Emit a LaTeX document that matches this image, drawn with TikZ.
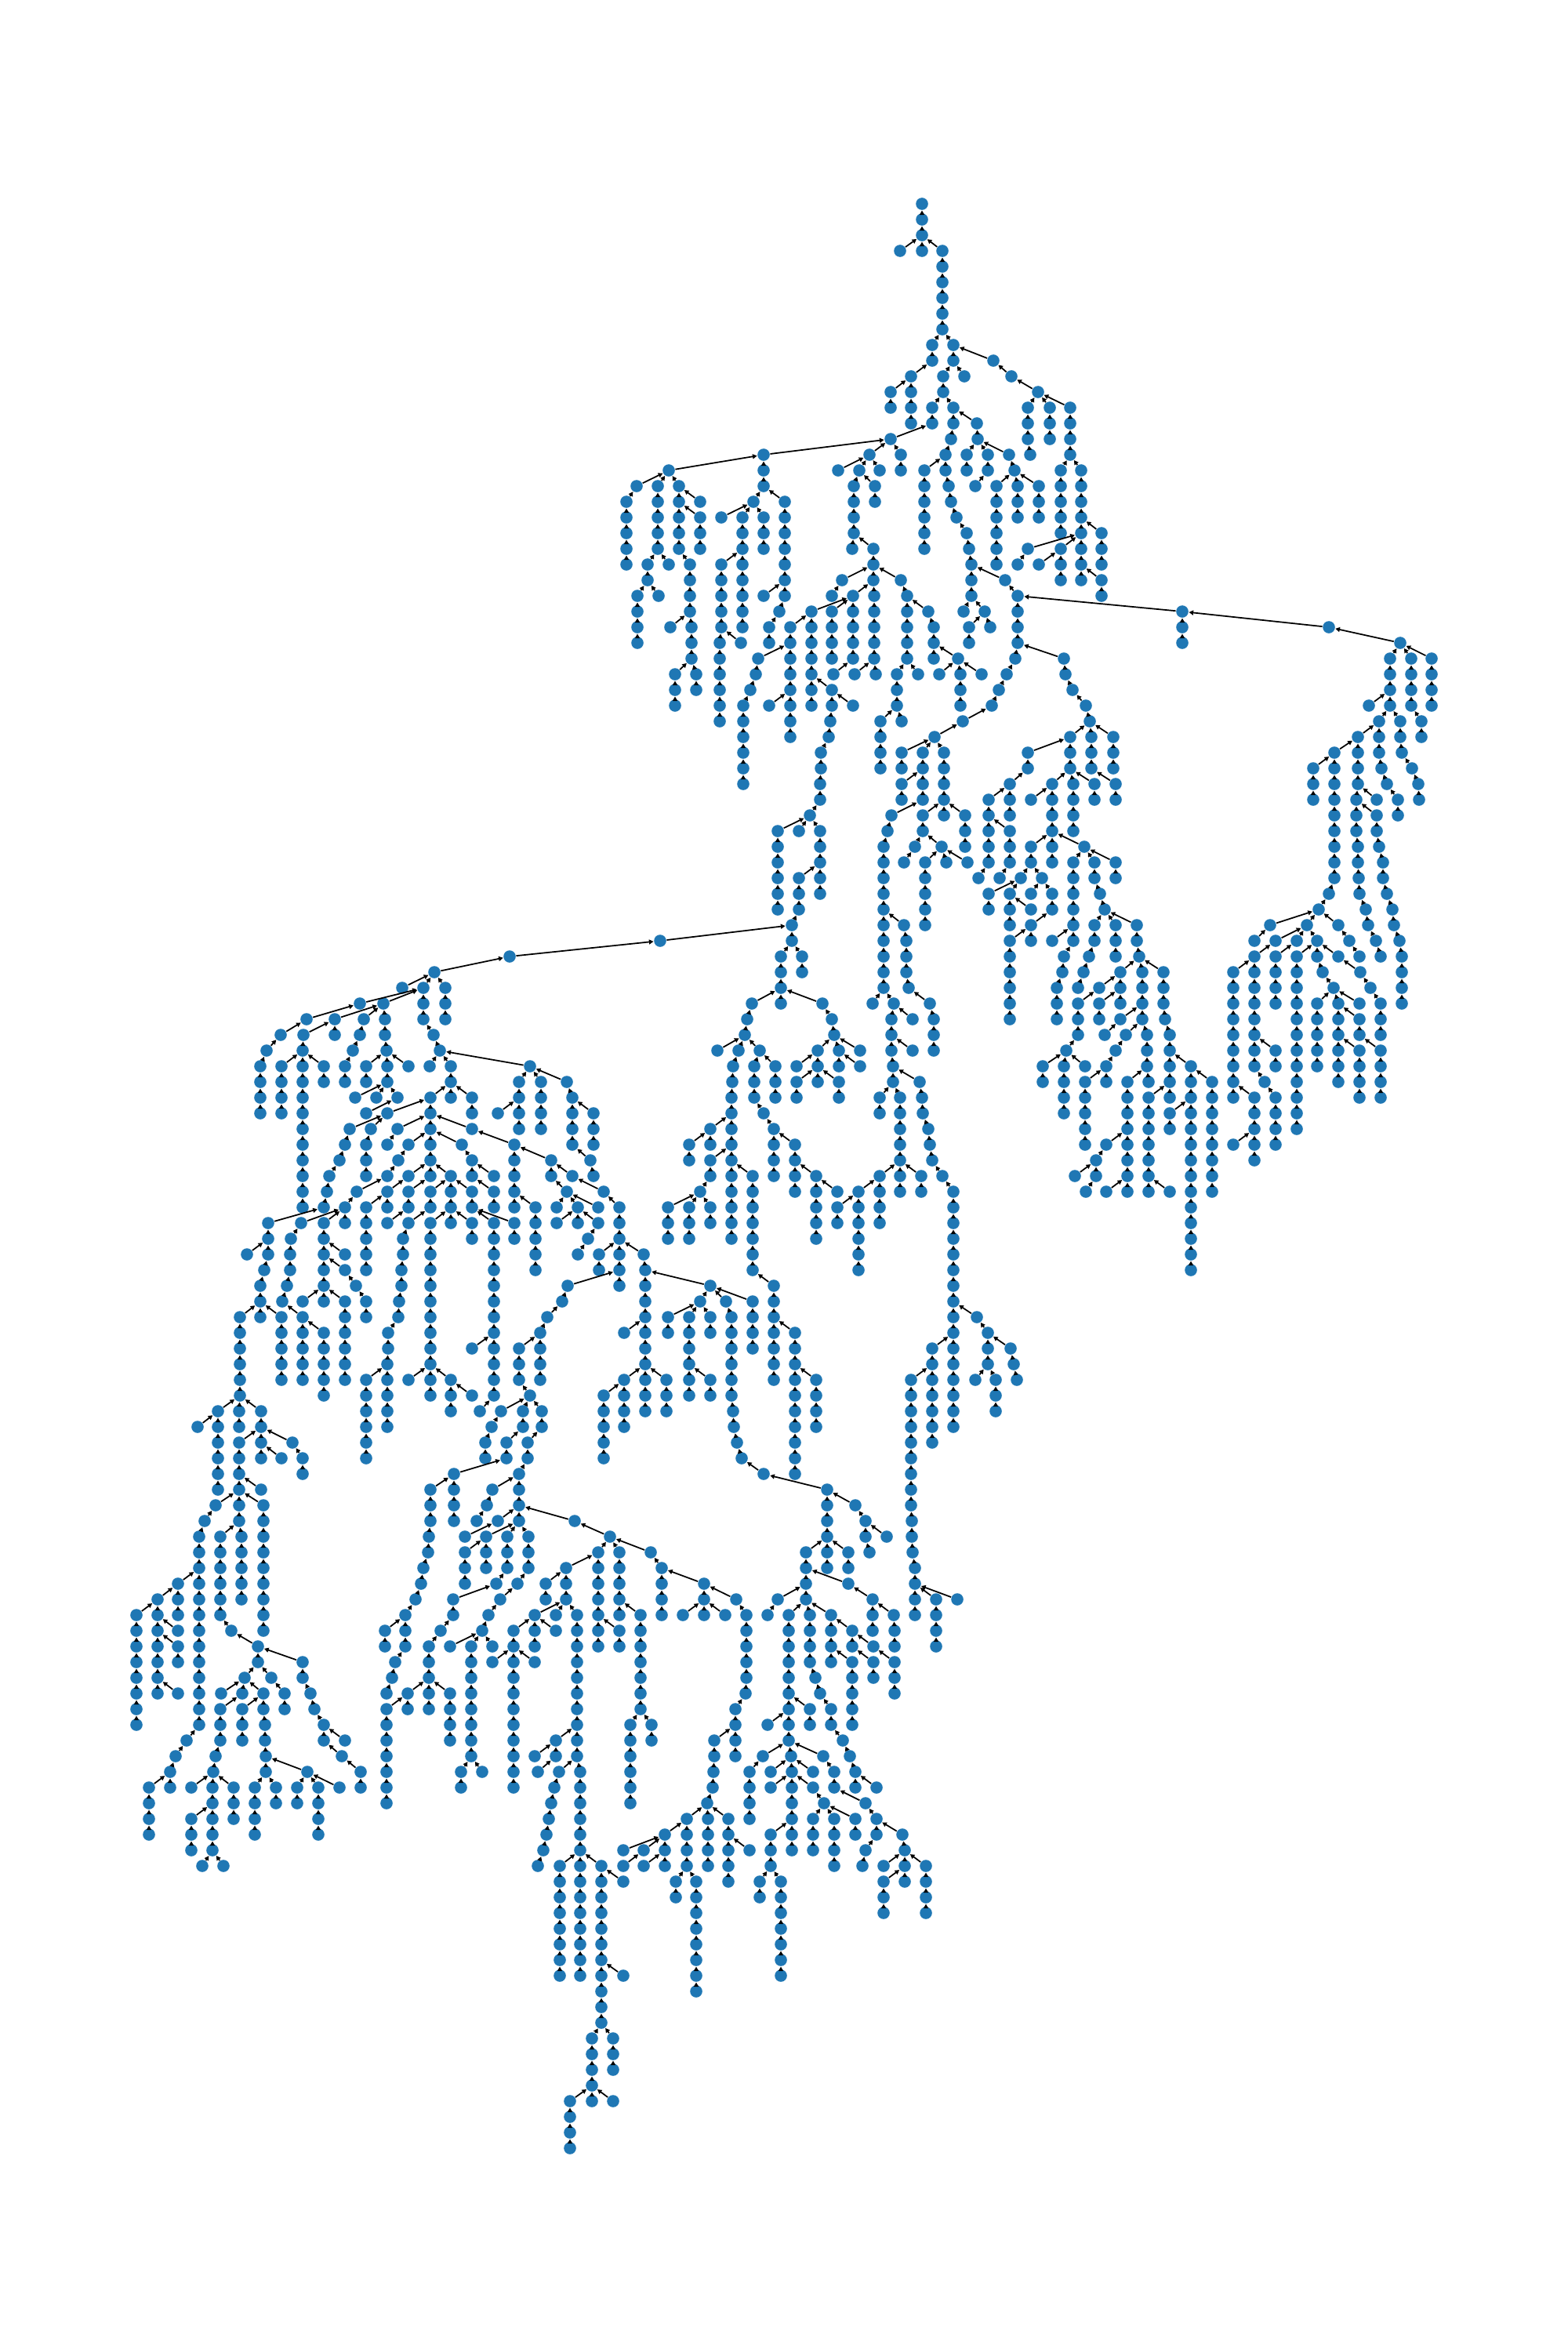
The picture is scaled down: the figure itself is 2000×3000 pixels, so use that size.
\documentclass[tikz,border=0pt]{standalone}
\usetikzlibrary{arrows.meta}
\definecolor{nodeblue}{HTML}{1F77B4}
\tikzset{
  nd/.style={circle,fill=nodeblue,draw=none,inner sep=0pt,minimum size=0.156cm},
  edge/.style={line width=0.5pt,draw=black,-{Triangle[length=1.6pt,width=1.7pt]}}
}
\newcount\rw
\newcommand\nodepass[3]{%
  \global\rw=#1\relax
  \foreach \xx in {#3}{%
    \global\advance\rw by 1\relax
    \node[nd] (n\the\rw x\xx) at (\xx,-\the\numexpr 260+20*\rw\relax) {};
  }}
\newcommand\edgepass[3]{%
  \global\rw=#1\relax
  \xdef\prevn{n\the\rw x#2}%
  \foreach \xx in {#3}{%
    \global\advance\rw by 1\relax
    \draw[edge] (n\the\rw x\xx) -- (\prevn);
    \xdef\prevn{n\the\rw x\xx}%
  }}
\newcommand\Data{%
\T{0}{1176}{1176,1176}
\T{2}{1176}{1148}
\T{2}{1176}{1176}
\T{2}{1176}{1202,1202,1202,1202,1202,1202}
\T{8}{1202}{1189,1189,1162,1162,1162,1162}
\T{11}{1162}{1136,1136}
\T{8}{1202}{1216,1216,1203,1203}
\T{10}{1216}{1230}
\T{9}{1216}{1267,1290,1324}
\T{12}{1324}{1311,1311,1311,1314}
\T{12}{1324}{1339,1339,1339}
\T{12}{1324}{1365,1365,1365,1365}
\T{16}{1365}{1353,1353,1353,1353,1353}
\T{16}{1365}{1379,1379,1379,1379,1379}
\T{20}{1379}{1405,1405,1405}
\T{21}{1379}{1311,1298}
\T{21}{1379}{1353,1353,1353}
\T{22}{1353}{1325}
\T{21}{1379}{1379,1379,1379}
\T{23}{1379}{1405,1405}
\T{12}{1203}{1189,1189}
\T{14}{1189}{1136}
\T{15}{1136}{1109}
\T{16}{1109}{1069}
\T{16}{1109}{1096}
\T{16}{1109}{1122}
\T{15}{1136}{1149,1149}
\T{15}{1136}{974,974,974}
\T{16}{974}{853}
\T{17}{853}{812,799,799,799,799,799}
\T{17}{853}{839,839,839,839,839}
\T{22}{839}{826,826}
\T{24}{826}{813,813,813,813}
\T{24}{826}{840}
\T{22}{839}{853}
\T{17}{853}{866,866,866,866,866}
\T{18}{866}{893}
\T{19}{866}{893,893,893}
\T{22}{866}{880,880,880,880}
\T{26}{880}{855}
\T{26}{880}{882,882,882}
\T{29}{882}{861,861,861}
\T{29}{882}{888,888}
\T{18}{974}{961}
\T{19}{961}{920}
\T{19}{961}{947,947,947,947,947,947,947,947}
\T{22}{947}{920,920,920,920,920,918,918,918,918,918,918}
\T{27}{920}{945}
\T{19}{961}{974,974,974}
\T{18}{974}{1001,1001,1001,1001,1001,1001,1001}
\T{24}{1001}{974}
\T{25}{1001}{994,981,981}
\T{17}{1096}{1089,1089,1089,1089}
\T{21}{1089}{1087}
\T{21}{1089}{1114,1114,1114}
\T{23}{1114}{1074,1061}
\T{17}{1096}{1116,1116}
\T{24}{1114}{1088,1088,1088,1088,1088}
\T{24}{1114}{1115,1115,1115,1115,1115,1117}
\T{29}{1115}{1090}
\T{29}{1088}{1063}
\T{25}{1088}{1035,1035,1035,1035,1035,1035,1035}
\T{25}{1088}{1061,1061,1061,1061}
\T{26}{1035}{1008,1008,1008,1008,1008,1008,1008,1008}
\T{28}{1008}{967,964,957,948,948,948,948,948,948}
\T{31}{1008}{981}
\T{30}{1035}{1061,1061,1059,1057,1047,1047,1046,1046,1033}
\T{31}{1061}{1088}
\T{39}{1033}{992,992,992,992,992,992}
\T{39}{1033}{1019}
\T{39}{1033}{1046,1046,1046,1046,1046}
\T{42}{1046}{1019,1019,1019,1010,1010}
\T{46}{1010}{842,650,554}
\T{47}{1010}{996,996,996}
\T{47}{1010}{1023,1023}
\T{50}{996}{959,953,950}
\T{50}{996}{996}
\T{50}{996}{1049,1061,1064}
\T{53}{950}{915}
\T{53}{950}{942,935,934,933,933,933,933,933,933,933,933,933,933}
\T{53}{950}{969,962,962,962,974,987,987,987,987}
\T{54}{969}{989,989,989}
\T{58}{933}{906,906}
\T{59}{906}{879,879}
\T{60}{933}{906,906,893}
\T{63}{893}{852,852,852}
\T{63}{893}{879,879,879}
\T{63}{893}{906,906}
\T{61}{933}{960,960,960,960,960,960,960}
\T{68}{960}{987,987,987,987,987,987,987}
\T{71}{987}{1014,1014,1014,1014,1014,1014,1014,1014,1014,1014}
\T{74}{1014}{1041,1041,1041,1041}
\T{59}{987}{1014,1014,1014,1014}
\T{61}{1014}{1041,1041,1041,1041,1041}
\T{62}{1041}{1068}
\T{53}{1064}{1043,1043,1043}
\T{53}{1064}{1070,1070}
\T{53}{1064}{1097}
\T{54}{1070}{1097}
\T{54}{1043}{1016}
\T{55}{1043}{1016,1016}
\T{55}{1043}{1070,1070}
\T{23}{1114}{1149,1157,1157,1157,1157,1157}
\T{29}{1157}{1144,1144,1144}
\T{29}{1157}{1171}
\T{25}{1157}{1184,1191,1191,1191}
\T{32}{1144}{1123,1123,1123,1123}
\T{32}{1144}{1150}
\T{28}{1191}{1222}
\T{29}{1222}{1198}
\T{29}{1222}{1225,1225,1225}
\T{29}{1222}{1252}
\T{12}{1203}{1216,1216,1213,1206}
\T{16}{1206}{1179,1179,1179,1179,1179,1179}
\T{16}{1206}{1206,1210,1213,1220,1233,1236,1239,1239,1239}
\T{13}{1216}{1246,1247}
\T{15}{1247}{1233,1233}
\T{15}{1247}{1260,1260,1244}
\T{15}{1247}{1287,1294}
\T{17}{1294}{1271,1271,1271,1271,1271,1271}
\T{17}{1294}{1298,1298,1298}
\T{17}{1294}{1325,1325,1325}
\T{23}{1239}{1282,1298,1298,1298,1298}
\T{25}{1239}{1229}
\T{25}{1239}{1256}
\T{26}{1256}{1236,1236}
\T{26}{1256}{1263}
\T{28}{1298}{1295,1284,1274,1265,1228,1192}
\T{34}{1192}{1150,1150}
\T{34}{1192}{1177,1177,1177,1177}
\T{36}{1177}{1150,1150}
\T{34}{1192}{1204,1204,1204,1204,1204}
\T{38}{1204}{1177,1177}
\T{38}{1204}{1231,1231,1231}
\T{38}{1177}{1137,1132,1127,1127,1127,1127,1127,1127,1127,1127,1127,1127}
\T{40}{1177}{1167,1153}
\T{40}{1177}{1201}
\T{41}{1201}{1180,1180,1180,1180,1180}
\T{41}{1201}{1207}
\T{41}{1201}{1234}
\T{45}{1127}{1153,1156,1156,1156,1159,1186,1191,1191,1191}
\T{50}{1127}{1113}
\T{50}{1127}{1140,1137,1137,1137,1139,1139}
\T{51}{1140}{1164}
\T{53}{1137}{1164}
\T{55}{1139}{1173,1176,1177,1184,1186,1189,1202,1216}
\T{56}{1139}{1122,1122}
\T{56}{1139}{1148,1148,1148,1148,1148,1148,1148}
\T{61}{1148}{1122,1122,1122,1122}
\T{61}{1148}{1175,1175}
\T{62}{1122}{1095,1095,1095,1095,1095,1095}
\T{63}{1095}{1068,1068}
\T{63}{1216}{1216,1216,1216,1216,1216,1216,1216,1216,1216,1216,1216,1216,1216,1216,1216}
\T{72}{1216}{1189,1189,1189,1189,1189,1189,1189}
\T{74}{1189}{1162,1162,1162,1162,1162,1162,1162,1162,1162,1163,1163,1164,1167,1167,1167,1167}
\T{70}{1216}{1246,1260,1260,1260}
\T{72}{1260}{1289,1293,1297}
\T{74}{1260}{1244}
\T{74}{1260}{1270,1270,1270}
\T{88}{1167}{1194,1194,1194,1194}
\T{88}{1167}{1221}
\T{28}{1298}{1357,1359,1368,1385,1390}
\T{33}{1390}{1365,1365,1365}
\T{34}{1365}{1311,1311,1288,1288,1288}
\T{37}{1288}{1261,1261,1261,1261,1261}
\T{39}{1261}{1288,1288,1288}
\T{42}{1261}{1248}
\T{42}{1288}{1275}
\T{36}{1365}{1342,1342,1342,1342,1342,1342}
\T{37}{1342}{1315}
\T{36}{1365}{1369,1369,1369,1369}
\T{36}{1365}{1396,1396}
\T{33}{1390}{1392,1392,1392}
\T{36}{1392}{1423,1423}
\T{33}{1390}{1420,1420,1420}
\T{40}{1342}{1315,1315,1302}
\T{43}{1302}{1261,1261}
\T{43}{1302}{1288,1288,1288}
\T{42}{1315}{1329}
\T{43}{1329}{1315}
\T{43}{1329}{1342,1342}
\T{44}{1288}{1315}
\T{45}{1342}{1315,1315}
\T{46}{1315}{1288,1288,1288,1288,1288,1288}
\T{40}{1342}{1383}
\T{41}{1383}{1369,1369,1369,1369,1369,1369}
\T{46}{1369}{1342}
\T{47}{1369}{1357,1355,1348,1348,1348}
\T{41}{1383}{1396,1396,1403,1409}
\T{41}{1383}{1423,1423}
\T{45}{1409}{1396,1396,1389,1382,1375}
\T{45}{1409}{1423,1423,1423}
\T{45}{1409}{1450,1450,1453}
\T{48}{1453}{1429,1429,1429}
\T{49}{1429}{1402,1375,1375,1375,1360}
\T{50}{1429}{1402,1402}
\T{48}{1453}{1457,1457,1457,1457,1463,1463,1463}
\T{51}{1457}{1429,1409}
\T{52}{1457}{1436,1423,1411,1411}
\T{55}{1411}{1384,1384,1384,1384,1384}
\T{54}{1360}{1330,1330}
\T{54}{1360}{1357,1357,1357,1357}
\T{54}{1360}{1384}
\T{55}{1463}{1438,1438,1438,1438,1438,1438,1438,1438}
\T{55}{1463}{1465}
\T{59}{1438}{1411,1398,1398,1385}
\T{61}{1398}{1371}
\T{62}{1438}{1411}
\T{48}{1453}{1484,1484,1484,1486,1492,1492,1492,1492,1492}
\T{56}{1492}{1465,1465,1465,1465,1465,1465,1465}
\T{62}{1465}{1492}
\T{54}{1492}{1519,1519,1519,1519,1519,1519,1519,1519,1519,1519,1519,1519,1519,1519}
\T{55}{1519}{1546,1546,1546,1546,1546,1546,1546,1546}
\T{57}{1519}{1492,1492}
\T{25}{1298}{1508,1508,1508}
\T{26}{1508}{1695,1786}
\T{28}{1786}{1773,1773,1773,1773}
\T{28}{1786}{1800,1800,1800,1800}
\T{28}{1786}{1826,1826,1826,1826}
\T{31}{1773}{1746}
\T{32}{1773}{1759,1759,1759,1762,1769,1783,1783}
\T{32}{1773}{1786,1786,1788}
\T{32}{1800}{1813,1813}
\T{35}{1788}{1801,1809,1810}
\T{33}{1759}{1732,1732,1732,1732}
\T{34}{1732}{1702,1702,1702,1702,1702,1702,1702,1702,1702,1695,1682}
\T{35}{1702}{1675,1675,1675}
\T{37}{1732}{1730,1730,1730,1732,1732,1733,1734,1742,1745,1755,1761}
\T{37}{1732}{1756}
\T{38}{1730}{1756,1756,1759,1764,1764,1769,1776,1778,1785,1788,1788,1788,1788}
\T{45}{1682}{1620,1600}
\T{45}{1682}{1667}
\T{46}{1667}{1627,1600,1600,1600,1600,1600,1600,1600,1600}
\T{48}{1600}{1573,1573,1573,1573,1573,1573,1573,1573,1573}
\T{56}{1573}{1600,1600,1600,1600,1600}
\T{53}{1600}{1627,1627}
\T{55}{1600}{1613,1627,1627,1627,1627}
\T{59}{1600}{1573}
\T{46}{1667}{1654}
\T{47}{1654}{1627,1627,1627,1627}
\T{46}{1667}{1680}
\T{47}{1680}{1654,1654,1654,1654,1654,1654,1654,1654,1654,1654,1654,1654}
\T{47}{1680}{1680,1687,1701}
\T{50}{1701}{1680,1680,1680,1680,1680}
\T{50}{1701}{1707,1707,1707,1707,1707,1707}
\T{50}{1701}{1734}
\T{51}{1707}{1734,1734}
\T{53}{1707}{1734,1734,1734,1734}
\T{53}{1734}{1761,1761,1761,1761}
\T{47}{1680}{1707,1735,1748,1761,1761,1761}
\T{45}{1682}{1707,1721,1734}
\T{49}{554}{513}
\T{49}{554}{540,540,540}
\T{49}{554}{568,568,568}
\T{50}{540}{459,391,358,340,332,332,332,332}
\T{50}{540}{489}
\T{51}{489}{427,387,386,386,386,386,386,386,386,386,386,386,386}
\T{52}{427}{427}
\T{54}{386}{359,359,359,359}
\T{54}{386}{413,413}
\T{51}{489}{464,459,450,440,440}
\T{51}{489}{491,491,493}
\T{54}{493}{467,467}
\T{54}{493}{494,494}
\T{54}{493}{521}
\T{56}{494}{453}
\T{56}{494}{480}
\T{56}{494}{507,467}
\T{52}{540}{553,561}
\T{54}{561}{548}
\T{54}{561}{575,575}
\T{54}{561}{676}
\T{56}{575}{549,549,549,549,549,549}
\T{56}{575}{575}
\T{56}{575}{602,602}
\T{57}{549}{494}
\T{58}{494}{446,440,433,420,417,413}
\T{64}{413}{342,342,342,337,332,332}
\T{66}{342}{315}
\T{70}{332}{306,306,306,306,306,306}
\T{70}{332}{332}
\T{70}{332}{359,359,359,359,359}
\T{58}{494}{473,467,467,467}
\T{58}{549}{507,494}
\T{59}{549}{521,508,494}
\T{62}{494}{455,440}
\T{64}{440}{384,371,370,370,366,360}
\T{70}{360}{386,386,386,386,386}
\T{71}{386}{413,413,413,413,413}
\T{64}{440}{413,413,413,413,413,413}
\T{64}{440}{440}
\T{66}{413}{440}
\T{67}{413}{440,454,467,467}
\T{69}{413}{386}
\T{69}{413}{440,440,440,440,440,440}
\T{61}{549}{521}
\T{62}{521}{494,494}
\T{63}{494}{467,467,467,467,467}
\T{62}{549}{521,521}
\T{64}{521}{494}
\T{61}{549}{575,575,575,575}
\T{62}{575}{549,549}
\T{64}{549}{521,514,514,512,512,509,508,495,495,494,494,494,494,494}
\T{74}{494}{467,467,467,467,467,467}
\T{64}{575}{549,549,549,549,549,549,549,549,549,549,549,549}
\T{74}{549}{521}
\T{74}{549}{575,575,575}
\T{75}{575}{602}
\T{62}{575}{602,602}
\T{64}{575}{602,602}
\T{64}{602}{630,630,630,630,630,630,630,630,630,630,630,630}
\T{72}{630}{602}
\T{76}{630}{612}
\T{64}{602}{656,656}
\T{59}{549}{589,602,602}
\T{61}{602}{630}
\T{62}{602}{630,630}
\T{58}{549}{602}
\T{59}{602}{656,656,656,656,656}
\T{60}{656}{703,703}
\T{61}{703}{730}
\T{62}{730}{770,790,790,790,790,790,790}
\T{66}{790}{764,764}
\T{66}{790}{821,823,823,823,823,823,823,823,823,823,823}
\T{68}{790}{724,717,698,689,689,689,689}
\T{72}{689}{662,662,662}
\T{75}{662}{676}
\T{76}{676}{639,627,619,619}
\T{76}{676}{667,667,646,646}
\T{76}{676}{691,691,673,673}
\T{80}{646}{579,579,579,579}
\T{81}{579}{549,549,549,547,546,540,537,530,517,517,517,504,500,493}
\T{90}{517}{491,491}
\T{80}{673}{662,662,662,662}
\T{81}{662}{628,621,608}
\T{83}{662}{635,593}
\T{83}{662}{733,778}
\T{84}{662}{620,620,620}
\T{85}{620}{593,593,593}
\T{84}{662}{647,647,647,633,578,578,562,547,547,547,547,547}
\T{94}{547}{520,520}
\T{95}{520}{493,493,493,493,493,493,493}
\T{94}{547}{574,574,574,574}
\T{84}{662}{674,674,674,660,638,623,615}
\T{91}{615}{574}
\T{91}{615}{601,601,601,601,601,601,601,601}
\T{91}{615}{628}
\T{99}{601}{588,588}
\T{99}{601}{615}
\T{85}{778}{763,763,763,763,763,763,763}
\T{86}{763}{722,722,722}
\T{87}{722}{696,696}
\T{89}{722}{682,682,682}
\T{89}{722}{709}
\T{89}{722}{736,736,736,736,736,736,736,736,736,736}
\T{90}{682}{655,655}
\T{90}{682}{709}
\T{92}{655}{628}
\T{92}{655}{655,655,655,655,655,655,655,655,655}
\T{92}{655}{682}
\T{97}{736}{709,709}
\T{98}{709}{682}
\T{99}{709}{686}
\T{99}{736}{713,707,703,700,697,693,686}
\T{99}{736}{740,740,740,740,740,740}
\T{105}{740}{714,714,714,714,714,714,714,714}
\T{105}{740}{740,740,740,740,740,740,740,740}
\T{105}{740}{767,767,767,767,767,767,767,767,767,767,767}
\T{106}{767}{795}
\T{112}{767}{795}
\T{116}{767}{755,755,755,755}
\T{116}{767}{782,782,782}
\T{120}{755}{727,727,727,727}
\T{120}{755}{755}
\T{120}{755}{782}
\T{85}{778}{790,790,790,790,790}
\T{89}{790}{817,817,817,817,817,817,817}
\T{96}{817}{804,804,804,804,804,804}
\T{96}{817}{831,831}
\T{90}{763}{790,790}
\T{85}{778}{830,844,844,844,844}
\T{87}{844}{898,898,898}
\T{88}{898}{939,952,952,952,952,952,951,938,938,938,938}
\T{89}{898}{871}
\T{89}{898}{925}
\T{97}{938}{911,911,910,909,902}
\T{102}{902}{876,876,876,876}
\T{103}{876}{848,848,848}
\T{104}{848}{795}
\T{104}{848}{821,795}
\T{105}{848}{821}
\T{106}{876}{862,862}
\T{106}{876}{888,888,888,888,888,888,888,888}
\T{102}{902}{903,903,903,903}
\T{102}{902}{929,929,929,929,929}
\T{104}{929}{956}
\T{68}{823}{906,893,852,852}
\T{70}{893}{879,879,879,879,879,879}
\T{70}{893}{906,906}
\T{74}{879}{906,906}
\T{69}{906}{926,933,933,933,933,933,933,935,936,940,946,974,1055}
\T{82}{1055}{1055,1055,1055,1055,1055}
\T{69}{906}{960,960,960,960}
\T{71}{823}{796}
\T{74}{823}{796,796,796,796}
\T{75}{796}{770,770,770,770,770}
\T{74}{823}{850,850,850}
\T{82}{1055}{1091,1104,1104,1109}
\T{84}{1104}{1131}
\T{85}{1055}{1028,1028,1028,1028}
\T{85}{1055}{1082,1082}
\T{87}{1028}{1082,1113,1113,1113}
\T{89}{1113}{1140,1141,1141}
\T{88}{1028}{992,979}
\T{89}{1028}{1006,1006,1006,1006,1006,1006,1006,1006,1006}
\T{89}{1028}{1033,1033,1033,1033,1040,1046,1060,1060,1075,1084,1091,1091}
\T{89}{1028}{1060,1060,1060,1060}
\T{90}{1060}{1087,1087}
\T{91}{1087}{1114}
\T{92}{1087}{1114,1114}
\T{92}{1060}{1087,1087,1087,1087,1087}
\T{92}{1114}{1141,1141,1141}
\T{95}{1006}{1033,1033}
\T{96}{1006}{979}
\T{98}{1006}{973,956,956,956,956}
\T{98}{1006}{1009,1010,1010,1010,1010,1010,1010}
\T{99}{1009}{983}
\T{99}{1009}{1037}
\T{100}{1010}{983}
\T{100}{1010}{1037,1051}
\T{102}{1051}{1037,1037,1037}
\T{102}{1051}{1064,1064,1064,1064}
\T{102}{1051}{1091,1091}
\T{98}{1006}{1050,1064,1064,1104,1118,1118}
\T{103}{1118}{1151,1154,1154,1154}
\T{104}{1118}{1104,1100}
\T{105}{1154}{1127}
\T{106}{1154}{1127,1127,1127}
\T{105}{1154}{1181,1181,1181,1181}
\T{103}{1010}{983,983,983}
\T{106}{983}{969,969}
\T{106}{983}{996,996,996,996,996,996,996}
\T{100}{1091}{1118}
\T{55}{676}{662,662,662,662}
\T{57}{662}{635}
\T{55}{676}{690,690,690,690}
\T{55}{676}{723,730,730,730,730}
\T{57}{730}{757,757,757}
\T{60}{730}{753,757}
\T{62}{703}{723}
\T{63}{723}{710}
\T{63}{723}{737,737}
\T{63}{723}{763}
\T{64}{737}{710}
\T{64}{737}{763,750,737}
\T{63}{656}{683,683,683,683,683}
\T{76}{306}{278,278,278,278,278,278}
\T{77}{278}{252}
\T{76}{306}{305,305}
\T{76}{306}{333,333,333,333}
\T{78}{333}{305,305,305,305,305,305,308,308,308,308,308}
\T{78}{333}{373,386,386}
\T{79}{333}{359}
\T{81}{305}{333}
\T{82}{305}{275,261,254,254,254,254,254,254,254,254,254,254,254,254,254}
\T{87}{254}{227,227,227}
\T{88}{227}{201,201,201,201,201,201,201}
\T{89}{201}{174,174,174,174,174,174,174,174}
\T{90}{201}{227}
\T{91}{201}{227,227}
\T{94}{201}{227}
\T{97}{254}{238,224,217,217}
\T{100}{217}{190,190,190,190}
\T{82}{305}{336,336,336,336,336,336,336,336,336}
\T{84}{305}{281,281,281,281,281,281,295,329,329}
\T{92}{329}{386,386,396,401,413,413}
\T{97}{413}{440}
\T{98}{413}{436,460,460}
\T{93}{329}{312,282}
\T{94}{312}{309}
\T{95}{309}{281,281,281,275,272}
\T{100}{272}{244}
\T{100}{272}{271,271,271,271,271}
\T{102}{271}{244,244,244}
\T{105}{271}{258}
\T{105}{271}{285}
\T{100}{272}{298,298,298}
\T{94}{312}{336}
\T{95}{336}{309,309,309}
\T{95}{336}{336,338,338,339,339}
\T{100}{339}{325,325,325,325}
\T{100}{339}{352,352}
\T{99}{339}{392}
\T{100}{392}{379,379}
\T{100}{392}{406,406,406,406}
\T{100}{392}{433}
\T{93}{329}{346,363,363}
}
\begin{document}
\begin{tikzpicture}[x=0.01cm,y=0.01cm]
\useasboundingbox (0,0) rectangle (2000,-3000);
\let\T\nodepass
\node[nd] (n0x1176) at (1176,-260) {};
\Data
\let\T\edgepass
\Data
\end{tikzpicture}
\end{document}
